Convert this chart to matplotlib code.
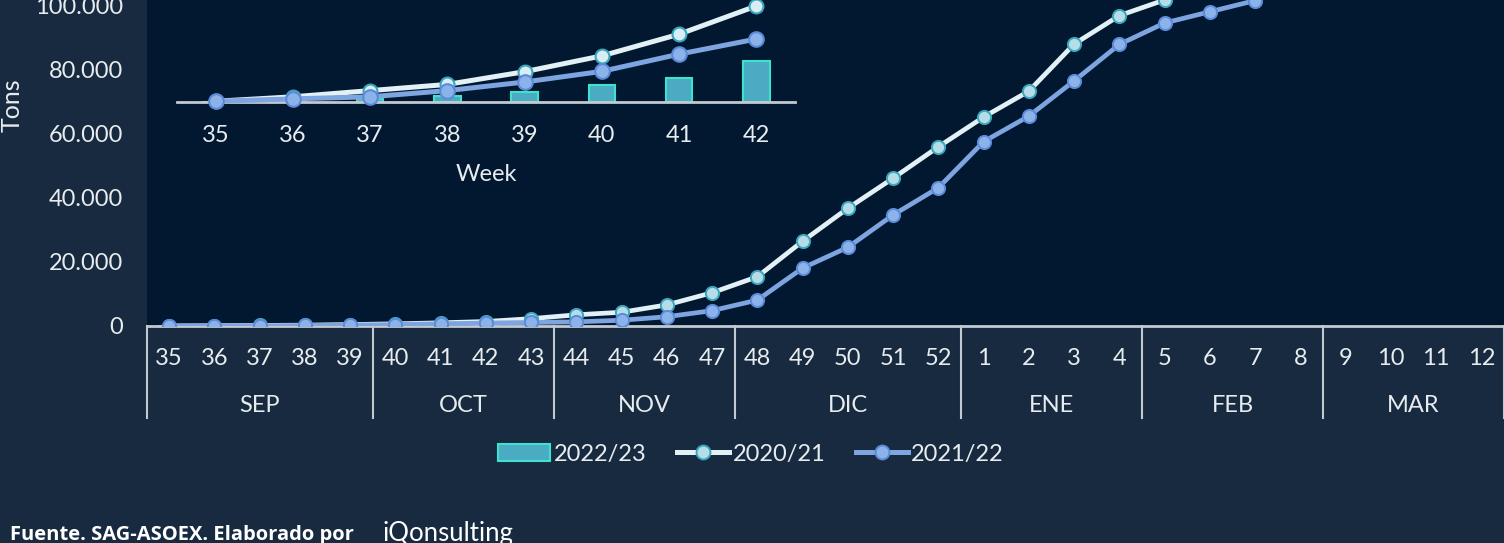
import numpy as np
import matplotlib
matplotlib.use("Agg")
import matplotlib.pyplot as plt
from matplotlib.ticker import FuncFormatter
from matplotlib.patches import Patch
from matplotlib.lines import Line2D

plt.rcParams['font.family'] = ['Lato', 'DejaVu Sans']

# --- data ---
weeks = ['35', '36', '37', '38', '39', '40', '41', '42', '43', '44', '45', '46',
         '47', '48', '49', '50', '51', '52', '1', '2', '3', '4', '5', '6', '7',
         '8', '9', '10', '11', '12']
months = ['SEP', 'OCT', 'NOV', 'DIC', 'ENE', 'FEB', 'MAR']
month_weeks = [5, 4, 4, 5, 4, 4, 4]

s2022_23 = [0, 10, 50, 95, 150, 250, 355, 600]
s2020_21 = [15, 80, 170, 260, 445, 675, 990, 1400, 2300, 3500, 4300, 6600, 10400,
            15400, 26500, 36800, 46200, 56000, 65300, 73400, 88100, 97000, 101900]
s2021_22 = [15, 50, 80, 170, 295, 450, 700, 920, 1100, 1300, 1800, 2900, 4800,
            8100, 18100, 24600, 34700, 43200, 57600, 65600, 76600, 88000, 94700,
            98200, 101700]
inset_weeks = weeks[:8]

# --- colours ---
BG = '#172a40'
PLOT_BG = '#011830'
TXT = '#e8ecef'
BAR_FC = '#4aabc3'
BAR_EC = '#3de3cf'
W_LINE = '#e2f1f5'
W_MFC = '#b5dde8'
W_MEC = '#3aa6bd'
B_LINE = '#7ea5e0'
B_MFC = '#8cb2ea'
B_MEC = '#5b8bd8'
AXIS = '#c3c9d0'
FS = 17

W, H = 1504, 543
fig = plt.figure(figsize=(W / 100, H / 100), dpi=100, facecolor=BG)

def px(x0, y0, x1, y1):
    # pixel box (top-left origin) -> figure fractions
    return [x0 / W, 1 - y1 / H, (x1 - x0) / W, (y1 - y0) / H]

ax = fig.add_axes(px(146.5, 0, 1504, 326))
ax.set_facecolor(PLOT_BG)
x = np.arange(len(weeks))

ax.bar(x[:len(s2022_23)], s2022_23, width=0.5, color=BAR_FC, edgecolor=BAR_EC, lw=1.2, zorder=2)
ax.plot(x[:len(s2020_21)], s2020_21, '-o', color=W_LINE, lw=3.4, ms=9.5,
        mfc=W_MFC, mec=W_MEC, mew=1.4, zorder=3)
ax.plot(x[:len(s2021_22)], s2021_22, '-o', color=B_LINE, lw=3.4, ms=9.5,
        mfc=B_MFC, mec=B_MEC, mew=1.4, zorder=4)

ax.set_xlim(-0.5, len(weeks) - 0.5)
ax.set_ylim(0, 101875)
ax.set_yticks(np.arange(0, 100001, 20000))
ax.yaxis.set_major_formatter(FuncFormatter(lambda v, p: f"{v:,.0f}".replace(',', '.')))
ax.set_xticks(x)
ax.set_xticklabels(weeks)
ax.tick_params(axis='y', length=0, pad=17, labelsize=FS, labelcolor=TXT)
ax.tick_params(axis='x', length=0, pad=16, labelsize=FS, labelcolor=TXT)
for s in ['top', 'right', 'left']:
    ax.spines[s].set_visible(False)
ax.spines['bottom'].set_color(AXIS)
ax.spines['bottom'].set_linewidth(2)

# month groups below the week labels
tr = ax.get_xaxis_transform()
sep_low = -(418 - 326) / 326
bounds = np.concatenate([[0], np.cumsum(month_weeks)]) - 0.5
for b in bounds:
    ax.plot([b, b], [0, sep_low], transform=tr, color=AXIS, lw=1.5, clip_on=False)
for m, a, b in zip(months, bounds[:-1], bounds[1:]):
    ax.text((a + b) / 2, -(406 - 326) / 326, m, transform=tr, ha='center', va='center',
            fontsize=FS, color=TXT)

fig.text(12 / W, 1 - 105 / H, 'Tons', rotation=90, ha='center', va='center',
         fontsize=18, color=TXT)

# --- inset: first weeks zoomed ---
ins = fig.add_axes(px(177, 0, 795, 102.3))
ins.set_facecolor('none')
xi = np.arange(len(inset_weeks))
ins.bar(xi, s2022_23, width=0.34, color=BAR_FC, edgecolor=BAR_EC, lw=1.5, zorder=2)
ins.plot(xi, s2020_21[:8], '-o', color=W_LINE, lw=3.6, ms=10, mfc='#d8eef4',
         mec=W_MEC, mew=1.5, zorder=3, clip_on=False)
ins.plot(xi, s2021_22[:8], '-o', color=B_LINE, lw=3.6, ms=10.5, mfc=B_MFC,
         mec=B_MEC, mew=1.5, zorder=4, clip_on=False)
ins.set_xlim(-0.5, 7.5)
ins.set_ylim(0, s2020_21[7] * 102.3 / 96.3)
ins.set_xticks(xi)
ins.set_xticklabels(inset_weeks)
ins.set_yticks([])
ins.tick_params(axis='x', length=0, pad=16, labelsize=FS, labelcolor=TXT)
for s in ['top', 'right', 'left']:
    ins.spines[s].set_visible(False)
ins.spines['bottom'].set_color(AXIS)
ins.spines['bottom'].set_linewidth(2)
ins.set_xlabel('Week', fontsize=FS, color=TXT, labelpad=13)

# --- legend ---
handles = [
    Patch(facecolor=BAR_FC, edgecolor=BAR_EC, lw=1.5, label='2022/23'),
    Line2D([], [], color=W_LINE, lw=3.6, marker='o', ms=10, mfc=W_MFC, mec=W_MEC,
           mew=1.4, label='2020/21'),
    Line2D([], [], color=B_LINE, lw=3.6, marker='o', ms=10, mfc=B_MFC, mec=B_MEC,
           mew=1.4, label='2021/22'),
]
leg = fig.legend(handles=handles, loc='center', bbox_to_anchor=(751 / W, 1 - 454 / H),
                 ncol=3, frameon=False, fontsize=FS, handlelength=2.2,
                 handletextpad=0.15, columnspacing=1.3, labelcolor=TXT)

# --- footer ---
fig.text(10 / W, 1 - 535 / H, 'Fuente. SAG-ASOEX. Elaborado por', fontsize=14.5,
         fontweight='bold', color='white', family=['Open Sans', 'DejaVu Sans'],
         ha='left', va='center')
fig.text(382 / W, 1 - 533 / H, 'iQonsulting', fontsize=18.5, color='white',
         ha='left', va='center')

fig.savefig('out.png', dpi=100, facecolor=BG)
